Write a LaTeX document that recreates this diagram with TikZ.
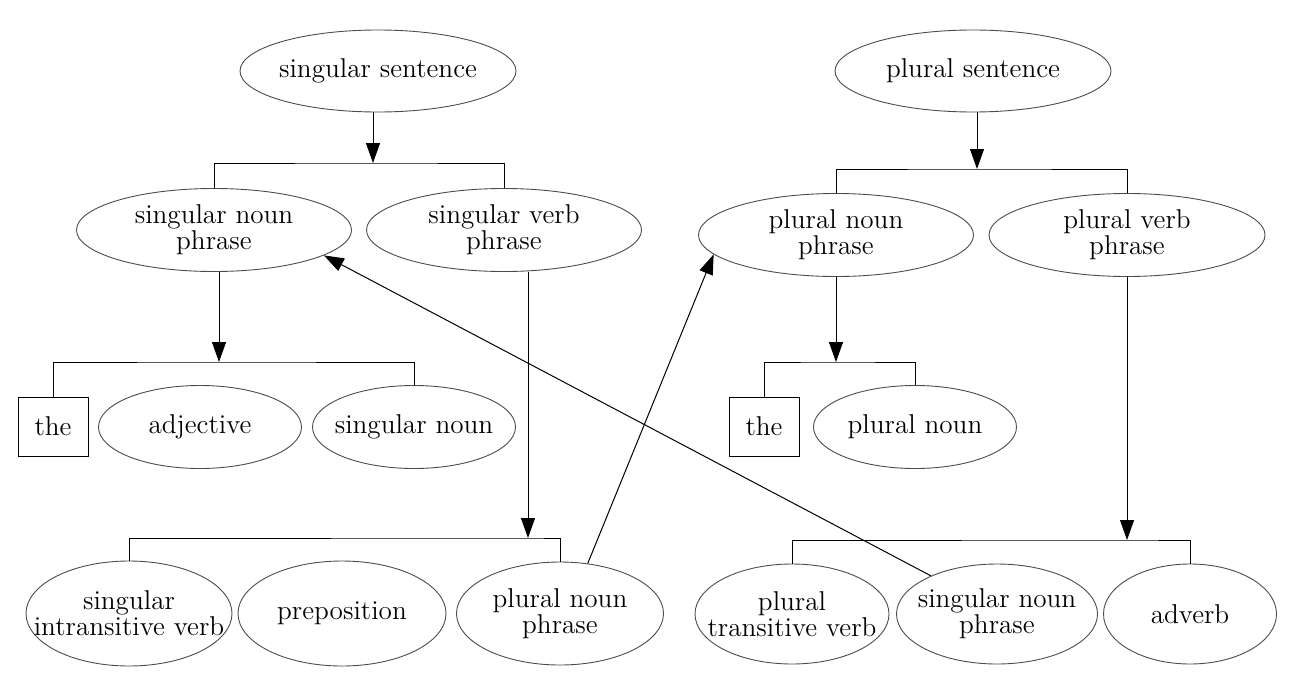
\documentclass[tikz,border=0pt]{standalone}
\usetikzlibrary{shapes.geometric,arrows.meta}
\begin{document}
\begin{tikzpicture}[x=0.5pt,y=-0.5pt,
  every node/.style={font=\fontsize{13.6}{13}\selectfont,align=center,inner sep=0pt},
  ell/.style={ellipse,draw=black!70,line width=0.45pt,inner xsep=-40pt},
  boxnode/.style={rectangle,draw=black,line width=0.5pt,minimum width=35pt,minimum height=29.5pt},
  conn/.style={draw=black,line width=0.5pt},
  arr/.style={conn,-{Triangle[length=10pt,width=7pt]}}]
\useasboundingbox (0,0) rectangle (1296,685);
% top
\node[ell,minimum width=138pt,minimum height=41pt] (ss) at (378,71) {singular sentence};
\node[ell,minimum width=138pt,minimum height=41pt] (ps) at (973,71) {plural sentence};
% second row
\node[ell,minimum width=137.5pt,minimum height=41.5pt] (snp) at (214,230) {singular noun\\phrase};
\node[ell,minimum width=137.5pt,minimum height=41.5pt] (svp) at (504,230) {singular verb\\phrase};
\node[ell,minimum width=137.5pt,minimum height=41.5pt] (pnp) at (836,235) {plural noun\\phrase};
\node[ell,minimum width=138pt,minimum height=41.5pt] (pvp) at (1127,235) {plural verb\\phrase};
% third row
\node[boxnode] (the1) at (53,426.5) {the};
\node[ell,minimum width=101.5pt,minimum height=41.5pt] (adj) at (200,427) {adjective};
\node[ell,minimum width=101.5pt,minimum height=41.5pt] (sn) at (414,427) {singular noun};
\node[boxnode] (the2) at (764,426.5) {the};
\node[ell,minimum width=101.5pt,minimum height=41.5pt] (pn) at (915,427) {plural noun};
% bottom row
\node[ell,minimum width=103pt,minimum height=52.5pt] (siv) at (129,613.5) {singular\\intransitive verb};
\node[ell,minimum width=104pt,minimum height=52.5pt] (prep) at (342,613.5) {preposition};
\node[ell,minimum width=103.5pt,minimum height=51.5pt] (pnp2) at (560,613.5) {plural noun\\phrase};
\node[ell,minimum width=97pt,minimum height=50pt] (ptv) at (792,614) {plural\\transitive verb};
\node[ell,minimum width=100.5pt,minimum height=50pt] (snp2) at (997,614) {singular noun\\phrase};
\node[ell,minimum width=86.5pt,minimum height=50pt] (adv) at (1190,614) {adverb};
% bar points
\coordinate (b1) at (373,163);
\coordinate (b2) at (977,169);
\coordinate (b3) at (219,362);
\coordinate (b4) at (528,538);
\coordinate (b5) at (836,362);
\coordinate (b6) at (1127,540);
% arrows to bars
\draw[arr] (b1 |- ss.south) -- (b1);
\draw[arr] (b2 |- ps.south) -- (b2);
\draw[arr] (b3 |- snp.south) -- (b3);
\draw[arr] (b4 |- svp.south) -- (b4);
\draw[arr] (b5 |- pnp.south) -- (b5);
\draw[arr] (b6 |- pvp.south) -- (b6);
% bars
\draw[conn] (snp.north) |- (b1) -| (svp.north);
\draw[conn] (pnp.north) |- (b2) -| (pvp.north);
\draw[conn] (the1.north) |- (b3) -| (sn.north);
\draw[conn] (siv.north) |- (b4) -| (pnp2.north);
\draw[conn] (the2.north) |- (b5) -| (pn.north);
\draw[conn] (ptv.north) |- (b6) -| (adv.north);
% cross arrows
\draw[arr] (snp2.150) -- (snp.347.5);
\draw[arr] (pnp2.61) -- (pnp.189.5);
\end{tikzpicture}
\end{document}
